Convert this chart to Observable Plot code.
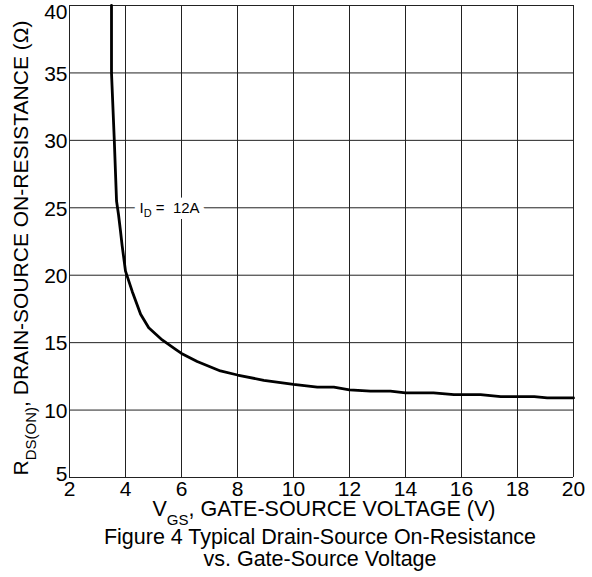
<!DOCTYPE html>
<html><head><meta charset="utf-8">
<script src="https://cdn.jsdelivr.net/npm/d3@7"></script>
<script src="https://cdn.jsdelivr.net/npm/@observablehq/plot@0.6"></script>
<style>
body{margin:0;background:#fff;}
svg{font-family:"Liberation Sans",Arial,sans-serif;}
</style>
</head><body><div id="chart"></div>
<script>
// Gate-source voltage (V) and drain-source on-resistance (Ω), ID = 12A
const vgs = [3.5, 3.5, 3.52, 3.6, 3.68, 3.75, 3.82, 3.88, 4.0, 4.24, 4.54, 4.83, 5.31, 5.79, 6.0, 6.56, 7.39, 8.0, 8.94, 10.0, 10.85, 11.44, 12.0, 12.75, 13.46, 14.0, 15.0, 15.73, 16.68, 17.4, 18.6, 19.06, 20];
const rds = [40, 35, 34, 30, 25.5, 24.5, 23.3, 22.2, 20.3, 18.8, 17.1, 16.1, 15.2, 14.5, 14.2, 13.6, 12.9, 12.6, 12.2, 11.9, 11.7, 11.7, 11.5, 11.4, 11.4, 11.27, 11.27, 11.15, 11.15, 11.0, 11.0, 10.9, 10.9];
const xTicks = [2, 4, 6, 8, 10, 12, 14, 16, 18, 20];
const yTicks = [5, 10, 15, 20, 25, 30, 35, 40];
const labelV = [4.5];
const labelR = [24.6];
const labelMain = ["I"];
const labelSub = ["D"];
const labelRest = [" =  12A"];
const yLabelMain = "R";
const yLabelSub = "DS(ON)";
const yLabelRest = ", DRAIN-SOURCE ON-RESISTANCE (Ω)";
const xLabelMain = "V";
const xLabelSub = "GS";
const xLabelRest = ", GATE-SOURCE VOLTAGE (V)";
const captionLines = ["Figure 4 Typical Drain-Source On-Resistance", "vs. Gate-Source Voltage"];

const curve = vgs.map((v, i) => ({v, r: rds[i]}));
const labels = labelV.map((v, i) => ({v, r: labelR[i], text: labelMain[i] + labelSub[i] + labelRest[i], i}));

const gridStyle = {stroke: "#222", strokeOpacity: 1, strokeWidth: 1};
const yAxisStyle = {tickSize: 0, tickPadding: 2, label: null, fontSize: 21, textAnchor: "end"};
const labelStyle = {x: "v", y: "r", text: "text", textAnchor: "start", lineAnchor: "bottom", fontSize: 15};

const svg = Plot.plot({
  width: 592, height: 577,
  marginTop: 5, marginLeft: 69, marginRight: 19, marginBottom: 100,
  x: {domain: [2, 20]},
  y: {domain: [5, 40]},
  style: {fontFamily: "'Liberation Sans', Arial, sans-serif", color: "#000", background: "#fff", overflow: "visible"},
  marks: [
    Plot.gridX(xTicks, gridStyle),
    Plot.gridY(yTicks, gridStyle),
    Plot.axisX(xTicks, {tickSize: 0, tickPadding: 4, label: null, fontSize: 21}),
    Plot.axisY(yTicks.filter(d => d > 5 && d < 40), {...yAxisStyle, dy: 1}),
    Plot.axisY(yTicks.filter(d => d === 40), {...yAxisStyle, dy: 6.5}),
    Plot.axisY(yTicks.filter(d => d === 5), {...yAxisStyle, dy: -3}),
    Plot.line(curve, {x: "v", y: "r", stroke: "#000", strokeWidth: 2.8}),
    Plot.text(labels, {...labelStyle, fill: "#fff", stroke: "#fff", strokeWidth: 12}),
    Plot.text(labels, {...labelStyle, fill: "#000"})
  ]
});

// subscript in the curve label (halo copy and text copy)
labels.forEach(l => {
  [...svg.querySelectorAll("text")].filter(e => e.textContent === l.text).forEach(t => {
    const s = d3.select(t);
    s.text(null).style("white-space", "pre");
    s.append("tspan").text(labelMain[l.i]);
    s.append("tspan").attr("font-size", 11).attr("dy", 4).text(labelSub[l.i]);
    s.append("tspan").attr("dy", -4).text(labelRest[l.i]);
  });
});

const root = d3.select(svg);
// y-axis title
const yt = root.append("text")
  .attr("transform", "translate(27.5,248) rotate(-90)")
  .attr("text-anchor", "middle").attr("font-size", 21).attr("fill", "#000");
yt.append("tspan").text(yLabelMain);
yt.append("tspan").attr("font-size", 15).attr("dy", 8).text(yLabelSub);
yt.append("tspan").attr("dy", -8).text(yLabelRest);

// x-axis title
const xt = root.append("text")
  .attr("x", 324).attr("y", 515.5)
  .attr("text-anchor", "middle").attr("font-size", 21.5).attr("fill", "#000");
xt.append("tspan").text(xLabelMain);
xt.append("tspan").attr("font-size", 15).attr("dy", 9.5).text(xLabelSub);
xt.append("tspan").attr("dy", -9.5).text(xLabelRest);

// caption
captionLines.forEach((line, i) => {
  root.append("text").attr("x", 320).attr("y", 543.5 + i * 22)
    .attr("text-anchor", "middle").attr("font-size", 21.5).attr("fill", "#000").text(line);
});

document.getElementById("chart").appendChild(svg);
</script>
</body></html>
